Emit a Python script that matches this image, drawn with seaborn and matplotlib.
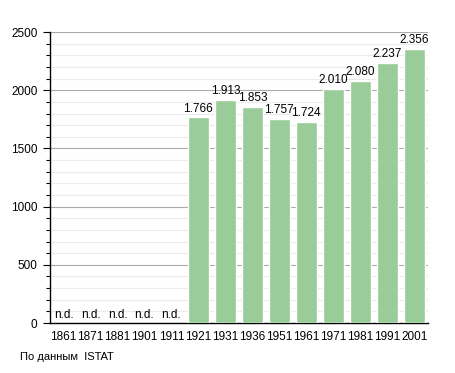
import numpy as np
import pandas as pd
import matplotlib
matplotlib.use("Agg")
import matplotlib.pyplot as plt
import seaborn as sns
from matplotlib.ticker import MultipleLocator

# data
years = ['1861', '1871', '1881', '1901', '1911', '1921', '1931', '1936',
         '1951', '1961', '1971', '1981', '1991', '2001']
population = [np.nan, np.nan, np.nan, np.nan, np.nan, 1766, 1913, 1853,
              1757, 1724, 2010, 2080, 2237, 2356]
source_note = 'По данным  ISTAT'

df = pd.DataFrame({'year': years, 'pop': population})

sns.set_style('white')
plt.rcParams['font.family'] = ['Liberation Sans', 'DejaVu Sans']
plt.rcParams['text.color'] = 'black'
plt.rcParams['xtick.color'] = 'black'
plt.rcParams['ytick.color'] = 'black'

fig = plt.figure(figsize=(4.55, 3.73), dpi=100)
ax = fig.add_axes([0.110, 0.134, 0.830, 0.780])

sns.barplot(data=df, x='year', y='pop', order=years, color='#99cc99',
            saturation=1, width=0.78, ax=ax, zorder=3)

ax.set_ylim(0, 2500)
ax.set_xlim(-0.5, len(years) - 0.5)
ax.yaxis.set_major_locator(MultipleLocator(500))
ax.yaxis.set_minor_locator(MultipleLocator(100))
ax.grid(axis='y', which='major', color='#aaaaaa', lw=0.8, zorder=0)
ax.grid(axis='y', which='minor', color='#ebebeb', lw=0.8, zorder=0)
ax.set_axisbelow(True)

for s in ['top', 'right']:
    ax.spines[s].set_visible(False)
for s in ['left', 'bottom']:
    ax.spines[s].set_color('black')
    ax.spines[s].set_linewidth(1)

ax.tick_params(axis='y', which='major', left=True, length=5, width=0.8,
               labelsize=8.5, pad=4, labelcolor='black')
ax.tick_params(axis='y', which='minor', left=True, length=3, width=0.8)
ax.tick_params(axis='x', bottom=False, labelsize=8.5, pad=2, labelcolor='black')
ax.set_xlabel('')
ax.set_ylabel('')

# value labels
for i, v in enumerate(population):
    if np.isnan(v):
        ax.text(i, 18, 'n.d.', ha='center', va='bottom', fontsize=8.5,
                color='black')
    else:
        lab = f'{int(v):,}'.replace(',', '.')
        ax.text(i, v + 25, lab, ha='center', va='bottom', fontsize=8.5,
                color='black')

fig.text(20 / 455, 1 - 362 / 373, source_note, fontsize=8, ha='left',
         va='bottom', color='black')

fig.savefig('out.png', dpi=100)
